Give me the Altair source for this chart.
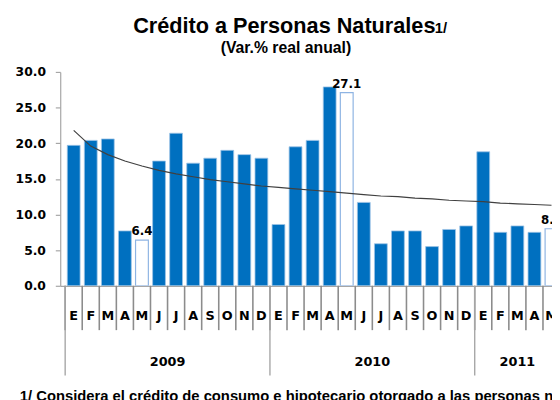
import altair as alt
import pandas as pd

# ---------------- data ----------------
months = ["E", "F", "M", "A", "M", "J", "J", "A", "S", "O", "N", "D",
          "E", "F", "M", "A", "M", "J", "J", "A", "S", "O", "N", "D",
          "E", "F", "M", "A", "M"]
values = [19.7, 20.4, 20.6, 7.7, 6.4, 17.5, 21.4, 17.2, 17.9, 19.0, 18.4, 17.9,
          8.6, 19.5, 20.4, 27.9, 27.1, 11.7, 5.9, 7.7, 7.7, 5.5, 7.9, 8.4,
          18.8, 7.5, 8.4, 7.5, 8.0]
hollow = [False, False, False, False, True, False, False, False, False, False, False, False,
          False, False, False, False, True, False, False, False, False, False, False, False,
          False, False, False, False, True]
trend = [21.8, 19.6, 18.4, 17.5, 16.8, 16.2, 15.7, 15.3, 14.9, 14.6, 14.3, 14.0,
         13.8, 13.6, 13.4, 13.2, 13.0, 12.8, 12.6, 12.5, 12.3, 12.2, 12.0, 11.9,
         11.8, 11.6, 11.5, 11.4, 11.3]
years = ["2009", "2010", "2011"]
year_start = [0, 12, 24]
year_center = [6, 18, 26.5]
y_ticks = [0, 5, 10, 15, 20, 25, 30]

title_main = "Crédito a Personas Naturales"
title_note = "1/"
subtitle = "(Var.% real anual)"
footnote = "1/ Considera el crédito de consumo e hipotecario otorgado a las  personas naturales"

# ---------------- build ----------------
n = len(values)
df = pd.DataFrame({
    "pos": [i + 0.5 for i in range(n)],
    "month": months,
    "value": values,
    "hollow": hollow,
    "trend": trend,
})
years_df = pd.DataFrame({"year": years, "start": year_start, "center": year_center})
sep_df = pd.DataFrame({"start": list(range(n))})

W, H = 499, 217
NARROW = "Liberation Sans Narrow, Arial Narrow, Liberation Sans, sans-serif"
WIDE = "DejaVu Sans, Liberation Sans, sans-serif"
GRAY = "#A6A6A6"
SEP = "#8C8C8C"
BLUE = "#0070C0"

xscale = alt.Scale(domain=[0, 28.24], nice=False, zero=False)
yscale = alt.Scale(domain=[0, 30], nice=False)

x_axis = alt.Axis(ticks=False, labels=False, title=None,
                  grid=False, domainColor=GRAY, domainWidth=1.2)
y_axis = alt.Axis(values=y_ticks, format=".1f", tickSize=5, labelPadding=10,
                  title=None, grid=False, domainColor=GRAY, tickColor=GRAY,
                  domainWidth=1.2, tickWidth=1.2, labelFont=WIDE, labelFontSize=12.5,
                  labelFontWeight="bold", labelColor="black")


def X(field):
    return alt.X(field, scale=xscale, axis=x_axis)


def Y(field):
    return alt.Y(field, scale=yscale, axis=y_axis)


base = alt.Chart(df)

bars = base.transform_filter("!datum.hollow").mark_bar(
    size=13, color=BLUE, stroke="#9DC3E6", strokeWidth=0.8, clip=True
).encode(x=X("pos:Q"), y=Y("value:Q"))

hollow_bars = base.transform_filter("datum.hollow").mark_bar(
    size=13, fill="white", stroke="#8EB4E3", strokeWidth=1.2, clip=True
).encode(x=X("pos:Q"), y=Y("value:Q"))

labels = base.transform_filter("datum.hollow").mark_text(
    dy=-9, font=WIDE, fontSize=12, fontWeight="bold", color="black"
).encode(x=X("pos:Q"), y=Y("value:Q"), text=alt.Text("value:Q", format=".1f"))

trend_line = base.mark_line(color="#404040", strokeWidth=1.2, clip=True).encode(
    x=X("pos:Q"), y=Y("trend:Q")
)

month_rules = alt.Chart(sep_df).mark_rule(color=SEP, strokeWidth=1.6).encode(
    x=X("start:Q"), y=alt.value(H), y2=alt.value(262)
)

year_rules = alt.Chart(years_df).mark_rule(color=GRAY, strokeWidth=1.4).encode(
    x=X("start:Q"), y=alt.value(H), y2=alt.value(308)
)

month_labels = base.mark_text(
    font=WIDE, fontSize=13, fontWeight="bold", color="black", baseline="middle"
).encode(x=X("pos:Q"), y=alt.value(248), text="month:N")

year_labels = alt.Chart(years_df).mark_text(
    font=WIDE, fontSize=13, fontWeight="bold", color="black", baseline="middle"
).encode(x=X("center:Q"), y=alt.value(294), text="year:N")

t1 = alt.Chart(pd.DataFrame({"t": [title_main]})).mark_text(
    font=NARROW, fontSize=22, fontWeight="bold", align="left", baseline="alphabetic",
    color="black"
).encode(x=alt.value(74), y=alt.value(-40), text="t:N")

t2 = alt.Chart(pd.DataFrame({"t": [title_note]})).mark_text(
    font=NARROW, fontSize=15, fontWeight="bold", align="left", baseline="alphabetic",
    color="black"
).encode(x=alt.value(380), y=alt.value(-40), text="t:N")

t3 = alt.Chart(pd.DataFrame({"t": [subtitle]})).mark_text(
    font=NARROW, fontSize=16, fontWeight="bold", align="center", baseline="middle",
    color="black"
).encode(x=alt.value(229), y=alt.value(-24), text="t:N")

fn = alt.Chart(pd.DataFrame({"t": [footnote]})).mark_text(
    font=NARROW, fontSize=15, fontWeight="bold", align="left", baseline="top",
    color="black"
).encode(x=alt.value(-41), y=alt.value(322), text="t:N")

chart = alt.layer(
    bars, hollow_bars, trend_line, labels, month_rules, year_rules, month_labels,
    year_labels, t1, t2, t3, fn
).properties(
    width=W, height=H,
    autosize=alt.AutoSizeParams(type="none"),
    padding={"left": 53, "top": 62, "right": 0, "bottom": 113},
).configure_view(stroke=None)

chart.save("out.html", embed_options={"renderer": "svg", "actions": False})
